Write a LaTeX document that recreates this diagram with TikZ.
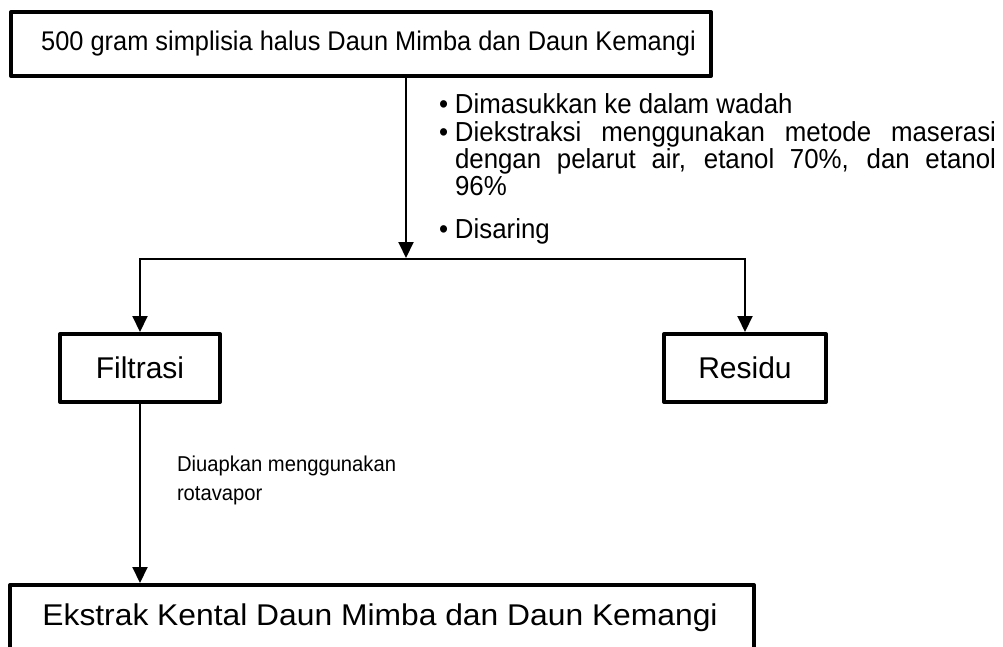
\documentclass[tikz,border=0pt]{standalone}
\usepackage{fontspec}
\setmainfont{Liberation Sans}
\newfontfamily\lebar[FakeStretch=1.06]{Liberation Sans}
\newfontfamily\sempit[FakeStretch=0.94]{Liberation Sans}
\usetikzlibrary{arrows.meta}

\tikzset{
    kotak/.style={draw, line width=4pt, inner sep=0pt, line join=round},
    panah/.style={-{Triangle[length=16pt,width=15pt]}},
}
\newcommand{\butir}{\par\noindent\hangindent=16pt\hangafter=1\makebox[16pt][l]{\textbullet}}

\begin{document}
\begin{tikzpicture}[x=1pt, y=-1pt, line width=2pt]
    \useasboundingbox (0,0) rectangle (1003,646);

    % 方框
    \node[kotak, minimum width=700pt, minimum height=64pt, font=\sempit\fontsize{27}{30}\selectfont] (awal) at (361,44) {\hspace*{15pt}500 gram simplisia halus Daun Mimba dan Daun Kemangi};
    \node[kotak, minimum width=160pt, minimum height=68pt, font=\fontsize{30}{34}\selectfont] (filtrasi) at (140,368) {Filtrasi};
    \node[kotak, minimum width=162pt, minimum height=68pt, font=\fontsize{30}{34}\selectfont] (residu) at (745,368) {Residu};
    \node[kotak, minimum width=744pt, minimum height=66pt, font=\lebar\fontsize{30}{34}\selectfont] (ekstrak) at (382,618) {Ekstrak Kental Daun Mimba dan Daun Kemangi\hspace*{4pt}};

    % 箭头
    \coordinate (cabang) at (406,259);
    \draw[panah, shorten >=1pt] (awal.south -| cabang) -- (cabang);
    \draw[panah] (cabang) -| (filtrasi);
    \draw[panah] (cabang) -| (residu);
    \draw[panah] (filtrasi) -- (filtrasi |- ekstrak.north);

    % 说明文字
    \node[anchor=north west, inner sep=0pt, text width=557pt, align=justify, font=\sempit\fontsize{27.5}{27.3}\selectfont] (langkah) at (438,85.5)
        {\butir Dimasukkan ke dalam wadah
         \butir Diekstraksi menggunakan metode maserasi dengan pelarut air, etanol 70\%, dan etanol\linebreak 96\%
         \par\vspace{15pt}\butir Disaring};
    \node[anchor=north west, inner sep=0pt, align=left, font=\sempit\fontsize{21.5}{29}\selectfont] (uap) at (176,455) {Diuapkan menggunakan\\rotavapor};
\end{tikzpicture}
\end{document}
